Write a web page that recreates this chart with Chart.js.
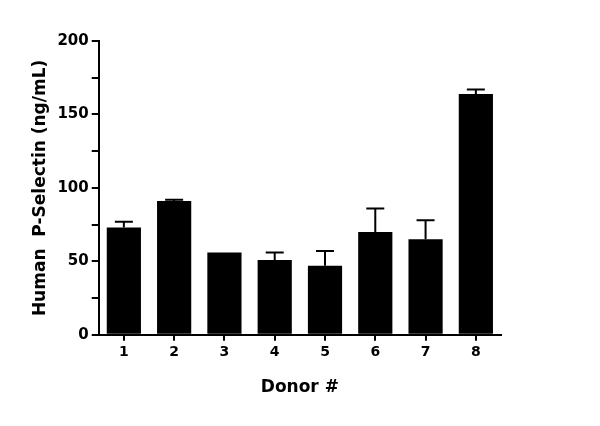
<!DOCTYPE html>
<html><head><script src="https://cdn.jsdelivr.net/npm/chart.js@4"></script>
<style>body{margin:0;background:#fff}#w{width:600px;height:426px}</style></head>
<body><div id="w"><canvas id="c"></canvas></div>
<script>
const categories=['1','2','3','4','5','6','7','8'];
const means=[73,91,56,51,47,70,65,164];
const errUpper=[77,92,56,56,57,86,78,167];
const yTicks=[0,50,100,150,200];
const errPlugin={id:'err',afterDatasetsDraw(ch){
 const ctx=ch.ctx,y=ch.scales.y,meta=ch.getDatasetMeta(0);
 ctx.save();ctx.strokeStyle='#000';ctx.lineWidth=2;
 meta.data.forEach((b,i)=>{const x=b.x,y0=y.getPixelForValue(means[i]),y1=y.getPixelForValue(errUpper[i]);
  if(y1<y0-1){ctx.beginPath();ctx.moveTo(x,y0);ctx.lineTo(x,y1);ctx.moveTo(x-9,y1);ctx.lineTo(x+9,y1);ctx.stroke();}});
 ctx.restore();}};
new Chart(document.getElementById('c'),{type:'bar',
 data:{labels:categories,datasets:[{data:means,backgroundColor:'#000',categoryPercentage:0.68,barPercentage:1}]},
 options:{responsive:true,maintainAspectRatio:false,animation:false,
  layout:{padding:{left:26,right:99,top:41,bottom:24}},
  plugins:{legend:{display:false},tooltip:{enabled:false}},
  scales:{
   x:{grid:{display:true,drawOnChartArea:false,offset:false,color:'#000',lineWidth:2,tickLength:6},border:{color:'#000',width:2},
      ticks:{color:'#000',font:{family:'DejaVu Sans',size:14,weight:'bold'}},
      title:{display:true,text:'Donor #',color:'#000',font:{family:'DejaVu Sans',size:17,weight:'bold'},padding:{top:14}}},
   y:{min:0,max:200,grid:{display:true,drawOnChartArea:false,color:'#000',lineWidth:2,tickLength:7},border:{color:'#000',width:2},
      ticks:{stepSize:25,autoSkip:false,color:'#000',font:{family:'DejaVu Sans',size:15,weight:'bold'},
        callback:v=>yTicks.includes(v)?v:''},
      title:{display:true,text:'Human  P-Selectin (ng/mL)',color:'#000',font:{family:'DejaVu Sans',size:17,weight:'bold'}}}}},
 plugins:[errPlugin]});
</script></body></html>
